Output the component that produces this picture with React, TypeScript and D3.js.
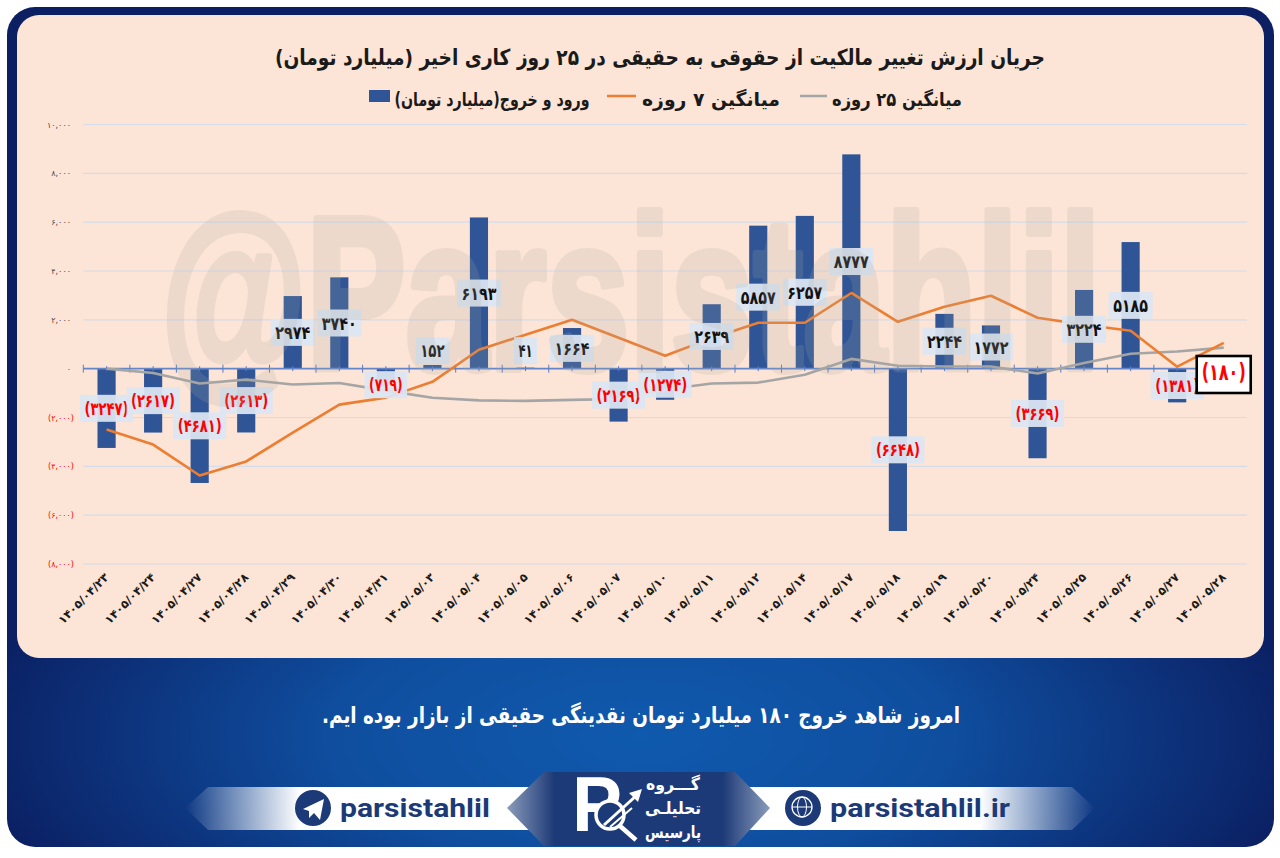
import React from "react";
import * as d3 from "d3";

const dates = ["۱۴۰۵/۰۴/۲۳","۱۴۰۵/۰۴/۲۴","۱۴۰۵/۰۴/۲۷","۱۴۰۵/۰۴/۲۸","۱۴۰۵/۰۴/۲۹","۱۴۰۵/۰۴/۳۰","۱۴۰۵/۰۴/۳۱","۱۴۰۵/۰۵/۰۳","۱۴۰۵/۰۵/۰۴","۱۴۰۵/۰۵/۰۵","۱۴۰۵/۰۵/۰۶","۱۴۰۵/۰۵/۰۷","۱۴۰۵/۰۵/۱۰","۱۴۰۵/۰۵/۱۱","۱۴۰۵/۰۵/۱۲","۱۴۰۵/۰۵/۱۴","۱۴۰۵/۰۵/۱۷","۱۴۰۵/۰۵/۱۸","۱۴۰۵/۰۵/۱۹","۱۴۰۵/۰۵/۲۰","۱۴۰۵/۰۵/۲۴","۱۴۰۵/۰۵/۲۵","۱۴۰۵/۰۵/۲۶","۱۴۰۵/۰۵/۲۷","۱۴۰۵/۰۵/۲۸"];
const flows = [-3247,-2617,-4681,-2613,2974,3740,-719,152,6193,41,1664,-2169,-1274,2639,5857,6257,8777,-6648,2244,1772,-3669,3224,5185,-1381,-180];
const avg7 = [-2495,-3108,-4376,-3800,-2620,-1472,-1186,-540,777,1390,2004,1268,530,1250,1880,1880,3100,1920,2540,2985,2085,1800,1550,80,1060];
const avg25 = [0,-180,-610,-450,-650,-590,-900,-1190,-1300,-1320,-1280,-1240,-850,-610,-570,-250,400,120,90,90,-200,230,610,700,860];
const yTicks = [10000,8000,6000,4000,2000,0,-2000,-4000,-6000,-8000];

const title = "جریان ارزش تغییر مالکیت از حقوقی به حقیقی در ۲۵ روز کاری اخیر (میلیارد تومان)";
const legendBars = "ورود و خروج(میلیارد تومان)";
const legend7 = "میانگین ۷ روزه";
const legend25 = "میانگین ۲۵ روزه";
const footerNote = "امروز شاهد خروج ۱۸۰ میلیارد تومان نقدینگی حقیقی از بازار بوده ایم.";
const groupWords = ["گـــروه", "تحلیلـی", "پارسیس"];

const AR = "'DejaVu Sans', 'Noto Sans', sans-serif";
const fa = (s: string) => s.replace(/\d/g, (d) => "۰۱۲۳۴۵۶۷۸۹"[+d]);
const fmtTick = (v: number) => {
  const s = fa(d3.format(",")(Math.abs(v)));
  return v < 0 ? `(${s})` : s;
};
const fmtLabel = (v: number) => {
  const s = fa(String(Math.abs(v)));
  return v < 0 ? `(${s})` : s;
};

const x0 = 83.3;
const x1 = 1247;
const x = d3.scaleBand<string>().domain(dates).range([x0, x1]).paddingInner(0.61).paddingOuter(0.305);
const y = d3.scaleLinear().domain([-8000, 10000]).range([564, 124.5]);
const cx = (i: number) => (x(dates[i]) as number) + x.bandwidth() / 2;
const step = x.step();

const lineGen = d3
  .line<number>()
  .x((_, i) => cx(i))
  .y((d) => y(d))
  .curve(d3.curveLinear);

function labelY(v: number) {
  if (Math.abs(v) < 800) return v > 0 ? y(0) - 18 : y(0) + 16;
  return y(v / 2);
}

export default function App() {
  return (
    <svg
      width={1280}
      height={858}
      viewBox="0 0 1280 858"
      style={{ position: "absolute", left: 0, top: 0, display: "block", background: "#fff" }}
    >
      <defs>
        <radialGradient id="frame" gradientUnits="userSpaceOnUse" cx={640} cy={730} r={680} gradientTransform="translate(0 430) scale(1 0.42)">
          <stop offset="0" stopColor="#0f5aae" />
          <stop offset="0.45" stopColor="#0f4e9f" />
          <stop offset="1" stopColor="#0b1f62" />
        </radialGradient>
        <linearGradient id="ribL" gradientUnits="userSpaceOnUse" x1={185} x2={300} y1={0} y2={0}>
          <stop offset="0" stopColor="#ffffff" stopOpacity="0" />
          <stop offset="1" stopColor="#ffffff" stopOpacity="1" />
        </linearGradient>
        <linearGradient id="ribR" gradientUnits="userSpaceOnUse" x1={1095} x2={980} y1={0} y2={0}>
          <stop offset="0" stopColor="#ffffff" stopOpacity="0" />
          <stop offset="1" stopColor="#ffffff" stopOpacity="1" />
        </linearGradient>
        <linearGradient id="hex" gradientUnits="userSpaceOnUse" x1={507} x2={770} y1={0} y2={0}>
          <stop offset="0" stopColor="#8b9cba" />
          <stop offset="0.18" stopColor="#1d3a78" />
          <stop offset="0.82" stopColor="#1d3a78" />
          <stop offset="1" stopColor="#8b9cba" />
        </linearGradient>
      </defs>

      <rect x={7} y={7} width={1267} height={840} rx={28} fill="url(#frame)" />
      <rect x={17} y={15} width={1247} height={643} rx={22} fill="#fce5d6" />

      <text x={660} y={65} textAnchor="middle" fontFamily={AR} fontWeight={700} fontSize={22} fill="#1a1a1a" textLength={770} lengthAdjust="spacingAndGlyphs" style={{ direction: "rtl" }}>{title}</text>

      <rect x={369} y={90} width={21} height={12} fill="#2f5597" />
      <text x={492} y={106} textAnchor="middle" fontFamily={AR} fontWeight={700} fontSize={19} fill="#1a1a1a" textLength={195} lengthAdjust="spacingAndGlyphs" style={{ direction: "rtl" }}>{legendBars}</text>
      <line x1={607} x2={636} y1={96} y2={96} stroke="#ed7d31" strokeWidth={2.5} />
      <text x={711} y={106} textAnchor="middle" fontFamily={AR} fontWeight={700} fontSize={19} fill="#1a1a1a" textLength={138} lengthAdjust="spacingAndGlyphs" style={{ direction: "rtl" }}>{legend7}</text>
      <line x1={800} x2={827} y1={96} y2={96} stroke="#a5a5a5" strokeWidth={2.5} />
      <text x={897} y={106} textAnchor="middle" fontFamily={AR} fontWeight={700} fontSize={19} fill="#1a1a1a" textLength={130} lengthAdjust="spacingAndGlyphs" style={{ direction: "rtl" }}>{legend25}</text>

      {yTicks.map((t) => (
        <g key={t}>
          {t !== 0 && <line x1={x0} x2={x1} y1={y(t)} y2={y(t)} stroke="#d3dce8" strokeWidth={1.1} />}
          <text x={t < 0 ? 74 : 71} y={y(t) + 3} textAnchor="end" fontFamily={AR} fontWeight={400} fontSize={8} fill={t < 0 ? "#ff0000" : "#444"}>{fmtTick(t)}</text>
        </g>
      ))}

      {flows.map((v, i) => (
        <rect key={i} x={x(dates[i])} y={y(Math.max(v, 0))} width={x.bandwidth()} height={Math.abs(y(v) - y(0))} fill="#2f5597" />
      ))}

      <line x1={x0} x2={x1} y1={y(0)} y2={y(0)} stroke="#6486c8" strokeWidth={1.7} />
      {d3.range(dates.length + 1).map((i) => (
        <line key={i} x1={x0 + i * step} x2={x0 + i * step} y1={y(0) - 4} y2={y(0) + 4} stroke="#5a7cc4" strokeWidth={1} />
      ))}
      {d3.range(dates.length).map((i) => (
        <line key={i} x1={cx(i)} x2={cx(i)} y1={y(0) - 2.5} y2={y(0) + 2.5} stroke="#5a7cc4" strokeWidth={1} />
      ))}

      <path d={lineGen(avg25) as string} fill="none" stroke="#a5a5a5" strokeWidth={2.6} strokeLinejoin="round" />
      <path d={lineGen(avg7) as string} fill="none" stroke="#ed7d31" strokeWidth={2.6} strokeLinejoin="round" />

      {flows.map((v, i) => {
        if (i === flows.length - 1) return null;
        const s = fmtLabel(v);
        const w = String(Math.abs(v)).length * 10.5 + 2 + (v < 0 ? 9 : 0);
        const ly = labelY(v);
        return (
          <g key={i}>
            <rect x={cx(i) - w / 2} y={ly - 13.5} width={w} height={27} fill="#dce6f2" fillOpacity={0.94} />
            <text x={cx(i)} y={ly + 6.5} textAnchor="middle" fontFamily={AR} fontWeight={700} fontSize={18} fill={v < 0 ? "#ff0000" : "#111"} textLength={w - 9} lengthAdjust="spacingAndGlyphs">{s}</text>
          </g>
        );
      })}

      {dates.map((d, i) => (
        <text key={d} transform={`translate(${cx(i) + 3},${578}) rotate(-45)`} textAnchor="end" fontFamily={AR} fontWeight={700} fontSize={11.5} fill="#1a1a1a" textLength={66} lengthAdjust="spacingAndGlyphs">{d}</text>
      ))}

      <g opacity={0.18}>
        <text x={161} y={369} fontFamily="'Liberation Sans', sans-serif" fontWeight={700} fontSize={218} fill="#aca99f" stroke="#aca99f" strokeWidth={8} strokeLinejoin="round" textLength={940} lengthAdjust="spacingAndGlyphs">@Parsistahlil</text>
      </g>

      <rect x={cx(24) - 27} y={356} width={54} height={37} fill="#fff" stroke="#000" strokeWidth={2.6} />
      <text x={cx(24)} y={380} textAnchor="middle" fontFamily={AR} fontWeight={700} fontSize={23} fill="#ff0000" textLength={44} lengthAdjust="spacingAndGlyphs">{fmtLabel(flows[24])}</text>

      <text x={641} y={723} textAnchor="middle" fontFamily={AR} fontWeight={700} fontSize={23} fill="#ffffff" textLength={638} lengthAdjust="spacingAndGlyphs" style={{ direction: "rtl" }}>{footerNote}</text>

      <polygon points="185,808 208,787 530,787 530,830 208,830" fill="url(#ribL)" />
      <polygon points="1095,808 1072,787 745,787 745,830 1072,830" fill="url(#ribR)" />
      <polygon points="507,808 544,772 735,772 770,808 735,846 544,846" fill="url(#hex)" />

      <circle cx={313} cy={808} r={18} fill="#1d3a78" />
      <polygon points="303,809 324,799 320,820 314,813 309,818 309,811" fill="#fff" />
      <text x={340} y={817} fontFamily="'Roboto', sans-serif" fontWeight={700} fontSize={25} fill="#1d3a78" textLength={150} lengthAdjust="spacingAndGlyphs">parsistahlil</text>

      <circle cx={803} cy={808} r={18} fill="#1d3a78" />
      <circle cx={802} cy={807} r={10} fill="none" stroke="#fff" strokeWidth={1.3} />
      <ellipse cx={802} cy={807} rx={4.5} ry={10} fill="none" stroke="#fff" strokeWidth={1} />
      <line x1={792} x2={812} y1={807} y2={807} stroke="#fff" strokeWidth={1} />
      <text x={830} y={817} fontFamily="'Roboto', sans-serif" fontWeight={700} fontSize={25} fill="#1d3a78" textLength={180} lengthAdjust="spacingAndGlyphs">parsistahlil.ir</text>

      <text x={572} y={831} fontFamily="'Liberation Sans', sans-serif" fontWeight={700} fontSize={78} fill="#fff" textLength={50} lengthAdjust="spacingAndGlyphs">P</text>
      <circle cx={610} cy={815} r={14} fill="#1d3a78" stroke="#fff" strokeWidth={3.5} />
      <line x1={620} y1={826} x2={636} y2={840} stroke="#fff" strokeWidth={4.5} />
      <line x1={604} y1={825} x2={637} y2={795} stroke="#fff" strokeWidth={3} />
      <line x1={610} y1={827} x2={632} y2={808} stroke="#fff" strokeWidth={2} />
      <polygon points="642,789 629,793 638,802" fill="#fff" />
      {groupWords.map((w, i) => (
        <text key={w} x={673} y={790 + i * 24} textAnchor="middle" fontFamily={AR} fontWeight={700} fontSize={17} fill="#fff" textLength={i === 0 ? 54 : 56} lengthAdjust="spacingAndGlyphs" style={{ direction: "rtl" }}>{w}</text>
      ))}
    </svg>
  );
}
